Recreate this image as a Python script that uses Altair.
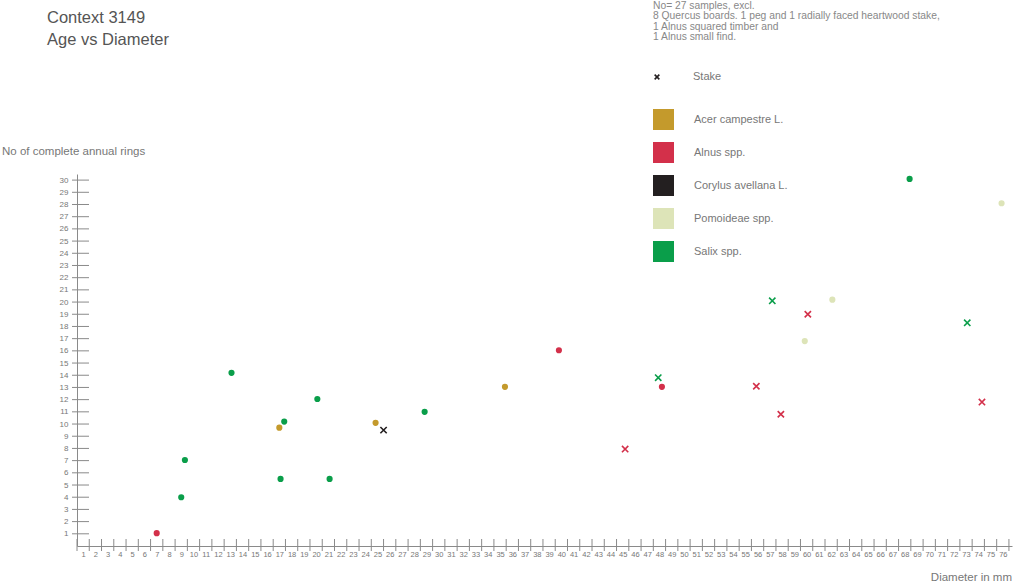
import altair as alt
import pandas as pd

FONT = "Liberation Sans"

# Species, legend order and colours
species_names = ["Acer campestre L.", "Alnus spp.", "Corylus avellana L.", "Pomoideae spp.", "Salix spp."]
species_colours = ["#c49a2c", "#d3304a", "#231f20", "#dde4b8", "#0a9e4a"]

# Samples: diameter (mm), complete annual rings, species, stake or not
diameter = [7.0, 9.0, 9.3, 13.1, 17.4, 17.0, 20.1, 17.1, 21.1, 24.85,
            25.5, 28.85, 35.4, 39.8, 47.9, 48.2, 45.2, 55.9, 57.9, 59.85,
            68.4, 75.9, 57.2, 62.1, 60.1, 73.1, 74.3]
rings = [1.05, 4.0, 7.05, 14.2, 10.2, 9.7, 12.05, 5.5, 5.5, 10.1,
         9.5, 11.0, 13.05, 16.05, 13.8, 13.05, 7.95, 13.1, 10.8, 16.8,
         30.1, 28.1, 20.1, 20.2, 19.0, 18.3, 11.8]
species = ["Alnus spp.", "Salix spp.", "Salix spp.", "Salix spp.", "Salix spp.",
           "Acer campestre L.", "Salix spp.", "Salix spp.", "Salix spp.", "Acer campestre L.",
           "Corylus avellana L.", "Salix spp.", "Acer campestre L.", "Alnus spp.", "Salix spp.",
           "Alnus spp.", "Alnus spp.", "Alnus spp.", "Alnus spp.", "Pomoideae spp.",
           "Salix spp.", "Pomoideae spp.", "Salix spp.", "Pomoideae spp.", "Alnus spp.",
           "Salix spp.", "Alnus spp."]
stake = [False, False, False, False, False, False, False, False, False, False,
         True, False, False, False, True, False, True, True, True, False,
         False, False, True, False, True, True, True]

x_labels = list(range(1, 77))
y_labels = list(range(1, 31))
x_tick_marks = [v + 0.5 for v in range(0, 77)]

notes = ["No= 27 samples, excl.",
         "8 Quercus boards. 1 peg and 1 radially faced heartwood stake,",
         "1 Alnus squared timber and",
         "1 Alnus small find."]

W, H = 935, 372
X_DOMAIN = [0.5, 76.75]
Y_DOMAIN = [0, 30.5]

df = pd.DataFrame({"diameter": diameter, "rings": rings, "species": species, "stake": stake})
circles_df = df[~df["stake"]]
stakes_df = df[df["stake"]]

xscale = alt.Scale(domain=X_DOMAIN, nice=False, zero=False)
yscale = alt.Scale(domain=Y_DOMAIN, nice=False, zero=False)

x_axis = alt.Axis(values=x_labels, tickCount=76, ticks=False, grid=False, title=None,
                  labelFontSize=7.5, labelColor="#777", labelFont=FONT,
                  labelPadding=4, labelOverlap=False, labelFlush=False,
                  labelBound=False, domainColor="#8a8a8a", domainWidth=1)
y_axis = alt.Axis(values=y_labels, tickCount=30, ticks=False, grid=False, title=None,
                  labelFontSize=8, labelColor="#777", labelFont=FONT,
                  labelPadding=9, labelOverlap=False, labelFlush=False,
                  labelBound=False, domainColor="#8a8a8a", domainWidth=1)

colour_scale = alt.Scale(domain=species_names, range=species_colours)

legend = alt.Legend(orient="none", legendX=576, legendY=-65, title=None,
                    symbolType="square", symbolSize=441, symbolStrokeWidth=0,
                    symbolOpacity=1, labelFontSize=11, labelColor="#777",
                    labelFont=FONT, labelOffset=20, rowPadding=12, padding=0)

circles = alt.Chart(circles_df).mark_circle(size=38, opacity=1).encode(
    x=alt.X("diameter:Q", scale=xscale, axis=x_axis),
    y=alt.Y("rings:Q", scale=yscale, axis=y_axis),
    color=alt.Color("species:N", scale=colour_scale, legend=legend),
)

X_PATH = "M-1,-1L1,1M-1,1L1,-1"
crosses = alt.Chart(stakes_df).mark_point(shape=X_PATH, size=40, filled=False,
                                          strokeWidth=1.6, opacity=1).encode(
    x=alt.X("diameter:Q", scale=xscale, axis=x_axis),
    y=alt.Y("rings:Q", scale=yscale, axis=y_axis),
    stroke=alt.Stroke("species:N", scale=colour_scale, legend=None),
)

# Tick marks crossing both axis lines
x_ticks = alt.Chart(pd.DataFrame({"t": x_tick_marks})).mark_rule(
    color="#8a8a8a", strokeWidth=1).encode(
    x=alt.X("t:Q", scale=xscale, axis=x_axis), y=alt.value(H - 7), y2=alt.value(H + 5))
y_ticks = alt.Chart(pd.DataFrame({"t": y_labels})).mark_rule(
    color="#8a8a8a", strokeWidth=1).encode(
    y=alt.Y("t:Q", scale=yscale, axis=y_axis), x=alt.value(-5), x2=alt.value(12))

one = pd.DataFrame({"k": [0]})

def label(text, x, y, size, colour="#777", align="left"):
    return alt.Chart(one).mark_text(text=text, font=FONT, fontSize=size, color=colour,
                                    align=align, baseline="middle").encode(
        x=alt.value(x), y=alt.value(y))

title1 = label("Context 3149", -30, -156, 16.5, "#555")
title2 = label("Age vs Diameter", -30, -134, 16.5, "#555")
note = alt.Chart(one).mark_text(text=notes, font=FONT, fontSize=10.3, color="#888",
                                align="left", baseline="middle", lineHeight=10.3).encode(
    x=alt.value(576), y=alt.value(-168))
y_title = label("No of complete annual rings", -75, -22, 11.5)
x_title = label("Diameter in mm", W, 404, 11.5, align="right")
stake_sym = alt.Chart(one).mark_point(shape=X_PATH, size=22, filled=False,
                                      strokeWidth=1.6, color="#231f20", opacity=1).encode(
    x=alt.value(580), y=alt.value(-97))
stake_txt = label("Stake", 616, -97, 11)

chart = alt.layer(
    x_ticks, y_ticks, circles, crosses,
    title1, title2, note, y_title, x_title, stake_sym, stake_txt,
).properties(
    width=W, height=H,
    autosize=alt.AutoSizeParams(type="none"),
    padding={"left": 77, "top": 174, "right": 4, "bottom": 38},
).configure(
    background="white",
    view=alt.ViewConfig(stroke="transparent", strokeWidth=0),
    axis=alt.AxisConfig(labelOverlap=False),
)

chart.save("out.html", embed_options={"renderer": "svg", "actions": False})
